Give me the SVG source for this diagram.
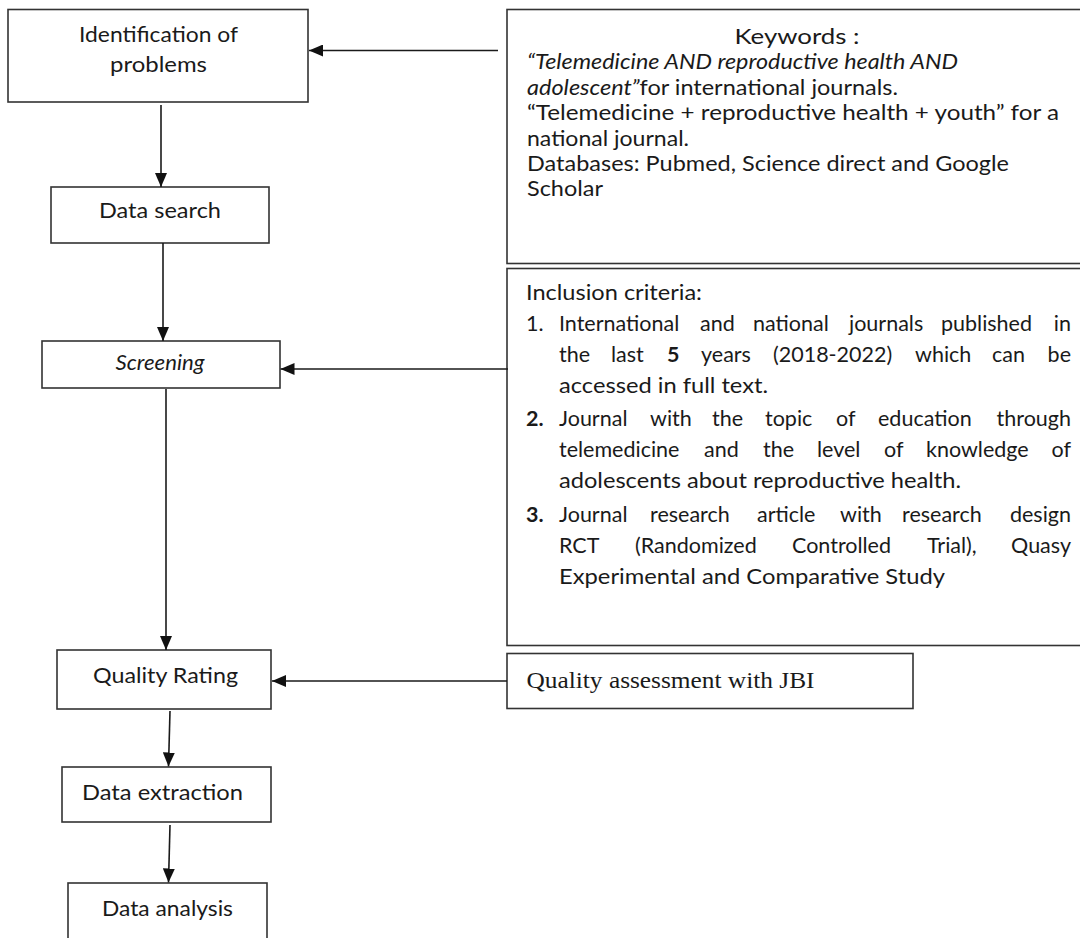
<svg xmlns="http://www.w3.org/2000/svg" width="1080" height="938" viewBox="0 0 1080 938">
<defs>
<style>
.t{font-family:Lato,"Open Sans","Liberation Sans",sans-serif;font-size:21.5px;fill:#1a1a1a}
.i{font-style:italic}
.b{font-weight:bold}
.s{font-family:"Liberation Serif","Times New Roman",serif;font-size:24px;fill:#1a1a1a}
.box{fill:#fff;stroke:#333;stroke-width:1.6}
.conn line{stroke:#1a1a1a;stroke-width:1.6;fill:none}
</style>
<marker id="ah" markerUnits="userSpaceOnUse" markerWidth="14" markerHeight="12" refX="14" refY="6" orient="auto">
<path d="M0,0 L14,6 L0,12 z" fill="#111"/>
</marker>
</defs>
<rect width="1080" height="938" fill="#fff"/>

<g id="n-identification">
<rect class="box" x="8" y="9.5" width="300" height="92.5"/>
<text class="t" x="158.5" y="42" text-anchor="middle" textLength="159" lengthAdjust="spacingAndGlyphs">Identification of</text>
<text class="t" x="158.5" y="72" text-anchor="middle" textLength="97" lengthAdjust="spacingAndGlyphs">problems</text>
</g>

<g id="n-datasearch">
<rect class="box" x="51" y="187" width="218" height="56"/>
<text class="t" x="160" y="218" text-anchor="middle" textLength="122" lengthAdjust="spacingAndGlyphs">Data search</text>
</g>

<g id="n-screening">
<rect class="box" x="42" y="341" width="238" height="47"/>
<text class="t i" x="160" y="370" text-anchor="middle" textLength="89" lengthAdjust="spacingAndGlyphs">Screening</text>
</g>

<g id="n-quality-rating">
<rect class="box" x="57" y="650" width="214" height="59"/>
<text class="t" x="165.5" y="683" text-anchor="middle" textLength="145" lengthAdjust="spacingAndGlyphs">Quality Rating</text>
</g>

<g id="n-extraction">
<rect class="box" x="62" y="767" width="209" height="55"/>
<text class="t" x="162.5" y="800" text-anchor="middle" textLength="161" lengthAdjust="spacingAndGlyphs">Data extraction</text>
</g>

<g id="n-analysis">
<rect class="box" x="68" y="883" width="199" height="70"/>
<text class="t" x="167.5" y="916" text-anchor="middle" textLength="131" lengthAdjust="spacingAndGlyphs">Data analysis</text>
</g>

<g id="n-keywords">
<rect class="box" x="507" y="9.5" width="590" height="254"/>
<text class="t" x="797" y="44" text-anchor="middle" textLength="125" lengthAdjust="spacingAndGlyphs">Keywords :</text>
<text class="t i" x="527" y="69" textLength="431" lengthAdjust="spacingAndGlyphs">“Telemedicine AND reproductive health AND</text>
<text class="t" x="527" y="95" textLength="371" lengthAdjust="spacingAndGlyphs"><tspan class="i">adolescent”</tspan>for international journals.</text>
<text class="t" x="527" y="120" textLength="532" lengthAdjust="spacingAndGlyphs">“Telemedicine + reproductive health + youth” for a</text>
<text class="t" x="527" y="146" textLength="162" lengthAdjust="spacingAndGlyphs">national journal.</text>
<text class="t" x="527" y="171" textLength="482" lengthAdjust="spacingAndGlyphs">Databases: Pubmed, Science direct and Google</text>
<text class="t" x="527" y="196" textLength="76" lengthAdjust="spacingAndGlyphs">Scholar</text>
</g>

<g id="n-inclusion">
<rect class="box" x="507" y="268.5" width="590" height="377"/>
<text class="t" x="526" y="300" textLength="176" lengthAdjust="spacingAndGlyphs">Inclusion criteria:</text>

<text class="t" x="526" y="331">1.</text>
<text class="t" y="331"><tspan x="559">International</tspan><tspan x="700">and</tspan><tspan x="753">national</tspan><tspan x="849">journals</tspan><tspan x="941">published</tspan></text>
<text class="t" x="1071" y="331" text-anchor="end">in</text>

<text class="t" y="362"><tspan x="559">the</tspan><tspan x="611">last</tspan><tspan x="667" class="b">5</tspan><tspan x="701">years</tspan><tspan x="773">(2018-2022)</tspan><tspan x="915">which</tspan><tspan x="992">can</tspan></text>
<text class="t" x="1071" y="362" text-anchor="end">be</text>

<text class="t" x="559" y="393" textLength="209" lengthAdjust="spacingAndGlyphs">accessed in full text.</text>

<text class="t b" x="526" y="426">2.</text>
<text class="t" y="426"><tspan x="559">Journal</tspan><tspan x="650">with</tspan><tspan x="712">the</tspan><tspan x="765">topic</tspan><tspan x="836">of</tspan><tspan x="878">education</tspan></text>
<text class="t" x="1071" y="426" text-anchor="end">through</text>

<text class="t" y="457"><tspan x="559">telemedicine</tspan><tspan x="704">and</tspan><tspan x="763">the</tspan><tspan x="817">level</tspan><tspan x="884">of</tspan><tspan x="926">knowledge</tspan></text>
<text class="t" x="1071" y="457" text-anchor="end">of</text>

<text class="t" x="559" y="488" textLength="402" lengthAdjust="spacingAndGlyphs">adolescents about reproductive health.</text>

<text class="t b" x="526" y="522">3.</text>
<text class="t" y="522"><tspan x="559">Journal</tspan><tspan x="650">research</tspan><tspan x="757">article</tspan><tspan x="840">with</tspan><tspan x="902">research</tspan></text>
<text class="t" x="1071" y="522" text-anchor="end">design</text>

<text class="t" y="553"><tspan x="559">RCT</tspan><tspan x="635">(Randomized</tspan><tspan x="792">Controlled</tspan><tspan x="927">Trial),</tspan></text>
<text class="t" x="1071" y="553" text-anchor="end">Quasy</text>

<text class="t" x="559" y="584" textLength="386" lengthAdjust="spacingAndGlyphs">Experimental and Comparative Study</text>
</g>

<g id="n-quality-assessment">
<rect class="box" x="507" y="653.5" width="406" height="55"/>
<text class="s" x="526.5" y="688" textLength="288" lengthAdjust="spacingAndGlyphs">Quality assessment with JBI</text>
</g>

<g id="connectors" class="conn">
<line x1="498" y1="50.5" x2="309" y2="50.5" marker-end="url(#ah)"/>
<line x1="161" y1="105" x2="161" y2="187" marker-end="url(#ah)"/>
<line x1="163" y1="243" x2="163" y2="341" marker-end="url(#ah)"/>
<line x1="508" y1="369" x2="280.5" y2="369" marker-end="url(#ah)"/>
<line x1="166" y1="389" x2="166" y2="650" marker-end="url(#ah)"/>
<line x1="507" y1="681" x2="272" y2="681" marker-end="url(#ah)"/>
<line x1="170" y1="711" x2="168.5" y2="766.5" marker-end="url(#ah)"/>
<line x1="170" y1="825" x2="168.5" y2="882.5" marker-end="url(#ah)"/>
</g>
</svg>
